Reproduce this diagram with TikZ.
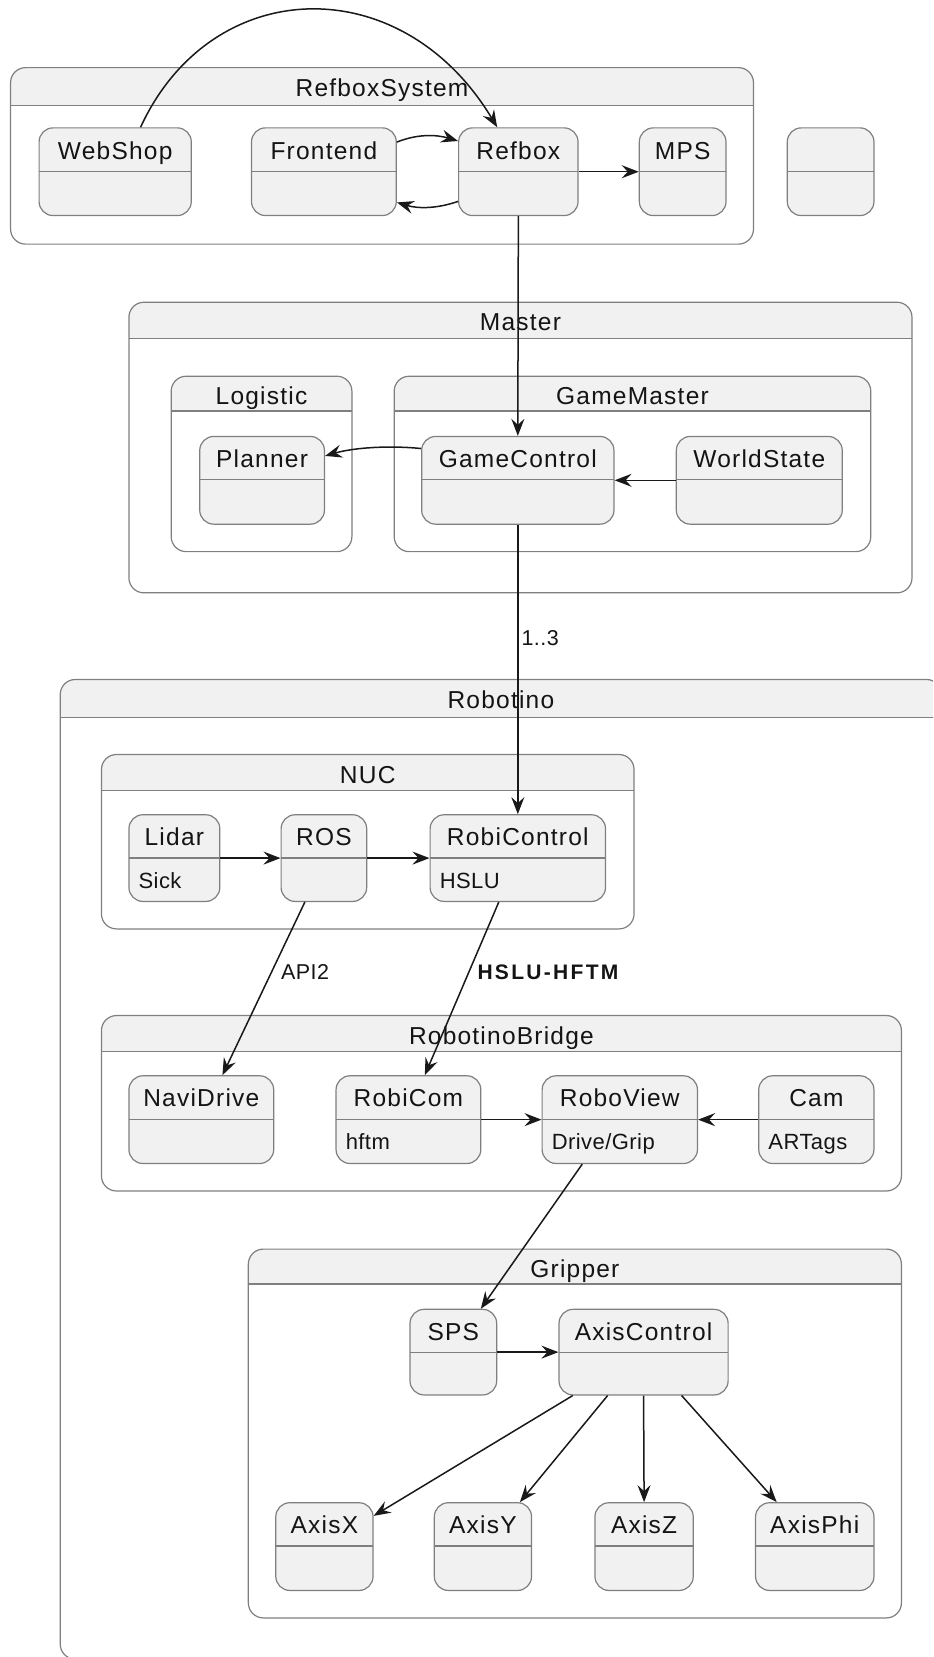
\documentclass[tikz,border=0pt]{standalone}
\usepackage{fontspec}
\setmainfont{Liberation Sans}
\newfontfamily\ttlfont[LetterSpace=5]{Liberation Sans}
\newfontfamily\subfont[LetterSpace=2]{Liberation Sans}
\newfontfamily\boldlblfont[LetterSpace=11]{Liberation Sans Bold}
\usetikzlibrary{fit,calc,arrows.meta}
\definecolor{boxfill}{HTML}{F1F1F1}
\definecolor{boxline}{HTML}{7F7F7F}
\definecolor{txt}{HTML}{141414}
\tikzset{
  stbox/.style={draw=boxline, line width=1.2pt, fill=boxfill, rounded corners=14pt, inner sep=0pt},
  contbox/.style={draw=boxline, line width=1.2pt, rounded corners=15pt, inner sep=0pt},
  divline/.style={draw=boxline, line width=1.2pt},
  ttl/.style={font=\ttlfont\fontsize{24.5}{28}\selectfont, text=txt, inner sep=0pt, anchor=base},
  subtxt/.style={font=\subfont\fontsize{22}{25}\selectfont, text=txt, inner sep=0pt, anchor=base west},
  lbl/.style={font=\subfont\fontsize{21.5}{25}\selectfont, text=txt, inner sep=0pt, anchor=west},
  conn/.style={draw=black!90, line width=1.5pt, -{Stealth[length=17pt,width=13pt,inset=6pt]}},
}
\newcommand\mkstate[7]{%
  \node[stbox, fit={(#2,#3) (#4,#5)}] (#1) {};
  \draw[divline] (#2,#3+41) -- (#4,#3+41);
  \if\relax\detokenize{#6}\relax\else
    \node[ttl] (#1-title) at ({(#2+#4)/2}, #3+29.5) {#6};
  \fi
  \if\relax\detokenize{#7}\relax\else
    \node[subtxt] (#1-sub) at (#2+9, #3+70) {#7};
  \fi
}
\newcommand\mkcont[7]{%
  \begin{scope}
    \clip (#2-3,#3-3) rectangle (#4+3,#6);
    \fill[boxfill, rounded corners=15pt] (#2,#3) rectangle (#4,#5);
  \end{scope}
  \node[contbox, fit={(#2,#3) (#4,#5)}] (#1) {};
  \draw[divline] (#2,#6) -- (#4,#6);
  \node[ttl] (#1-title) at ({(#2+#4)/2}, #3+27) {#7};
}
\begin{document}
\begin{tikzpicture}[x=1.0566pt, y=-1.0566pt]
\useasboundingbox (0,0) rectangle (883,1568);
\clip (0,0) rectangle (883,1568);

% containers
\mkcont{rbs}{10}{64}{713}{231}{100}{RefboxSystem}
\mkcont{mst}{122}{286}{863}{561}{320}{Master}
\mkcont{lg}{162}{356}{333}{522}{389}{Logistic}
\mkcont{gm}{373}{356}{824}{522}{389}{GameMaster}
\mkcont{rob}{57}{643}{891}{1570}{679}{Robotino}
\mkcont{nuc}{96}{714}{600}{879}{748}{NUC}
\mkcont{rbr}{96}{961}{853}{1127}{995}{RobotinoBridge}
\mkcont{grp}{235}{1182}{853}{1531}{1215}{Gripper}

% states
\mkstate{ws}{37}{121}{181}{204}{WebShop}{}
\mkstate{fe}{238}{121}{375}{204}{Frontend}{}
\mkstate{rb}{434}{121}{547}{204}{Refbox}{}
\mkstate{mps}{605}{121}{687}{204}{MPS}{}
\mkstate{emp}{745}{121}{827}{204}{}{}
\mkstate{pl}{189}{413}{307}{496}{Planner}{}
\mkstate{gc}{399}{413}{581}{496}{GameControl}{}
\mkstate{wst}{640}{413}{797}{496}{WorldState}{}
\mkstate{li}{122}{771}{208}{853}{Lidar}{Sick}
\mkstate{ros}{266}{771}{347}{853}{ROS}{}
\mkstate{rc}{407}{771}{573}{853}{RobiControl}{HSLU}
\mkstate{nd}{122}{1018}{259}{1101}{NaviDrive}{}
\mkstate{rcom}{318}{1018}{455}{1101}{RobiCom}{hftm}
\mkstate{rv}{513}{1018}{660}{1101}{RoboView}{Drive/Grip}
\mkstate{cam}{718}{1018}{827}{1101}{Cam}{ARTags}
\mkstate{sps}{388}{1239}{470}{1320}{SPS}{}
\mkstate{ac}{529}{1239}{689}{1320}{AxisControl}{}
\mkstate{ax}{261}{1422}{353}{1505}{AxisX}{}
\mkstate{ay}{411}{1422}{503}{1505}{AxisY}{}
\mkstate{az}{563}{1422}{656}{1505}{AxisZ}{}
\mkstate{aphi}{715}{1422}{827}{1505}{AxisPhi}{}

% connectors
\draw[conn] ($(ws.north)+(24,0)$) .. controls (200,-25) and (380,-30) .. ($(rb.north)+(-20,0)$);
\draw[conn] ($(fe.north east)+(0,14)$) .. controls +(20,-8) and +(-20,-6) .. ($(rb.north west)+(0,13)$);
\draw[conn] ($(rb.south west)+(0,-14)$) .. controls +(-20,7) and +(20,6) .. ($(fe.south east)+(0,-13)$);
\draw[conn] (rb.east) -- (mps.west);
\draw[conn] (rb.south) -- (gc.north);
\draw[conn] ($(gc.north west)+(0,12)$) .. controls +(-30,-3) and +(28,-8) .. ($(pl.north east)+(0,19)$);
\draw[conn] (wst.west) -- (gc.east);
\draw[conn] (gc.south) -- node[lbl, pos=0.39, xshift=3pt] (l13) {1..3} (rc.north);
\draw[conn] (li.east) -- (ros.west);
\draw[conn] (ros.east) -- (rc.west);
\draw[conn] ($(ros.south)+(-18,0)$) -- node[lbl, pos=0.406, xshift=9pt] (lapi) {API2} ($(nd.north)+(20,0)$);
\draw[conn] ($(rc.south)+(-18,0)$) -- node[lbl, pos=0.406, xshift=8pt, font=\boldlblfont\fontsize{21}{24}\selectfont] (lhh) {HSLU-HFTM} ($(rcom.north)+(15.5,0)$);
\draw[conn] (rcom.east) -- (rv.west);
\draw[conn] (cam.west) -- (rv.east);
\draw[conn] ($(rv.south)+(-35.5,0)$) -- ($(sps.north)+(26,0)$);
\draw[conn] (sps.east) -- (ac.west);
\draw[conn] ($(ac.south)+(-67,0)$) -- ($(ax.north east)+(0,13)$);
\draw[conn] ($(ac.south)+(-34,0)$) -- ($(ay.north)+(35,0)$);
\draw[conn] (ac.south) -- (az.north);
\draw[conn] ($(ac.south)+(36,0)$) -- ($(aphi.north)+(-36,0)$);
\end{tikzpicture}
\end{document}
